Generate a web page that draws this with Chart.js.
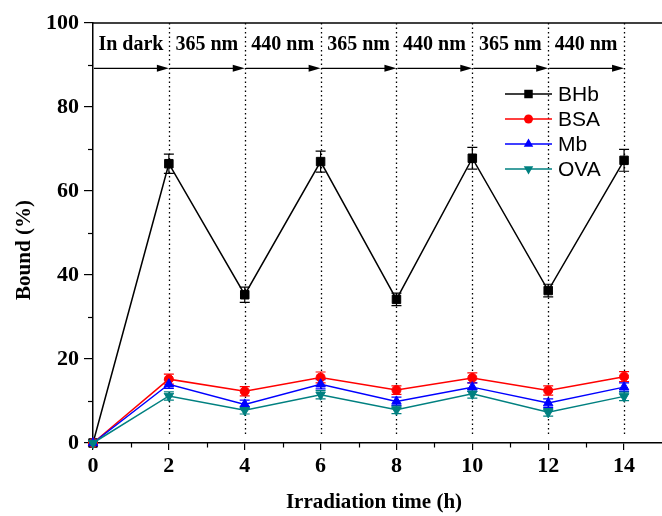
<!DOCTYPE html>
<html>
<head>
<meta charset="utf-8">
<script src="https://cdn.jsdelivr.net/npm/chart.js@4/dist/chart.umd.min.js"></script>
<style>
html,body{margin:0;padding:0;background:#fff;}
#wrap{width:662px;height:516px;}
</style>
</head>
<body>
<div id="wrap"><canvas id="c" width="662" height="516"></canvas></div>
<script>
// ---- data ----
const hours = [0, 2, 4, 6, 8, 10, 12, 14];
const bhb    = [0, 66.5, 35.3, 67.0, 34.2, 67.8, 36.3, 67.3];
const bhbErr = [0, 2.3, 1.8, 2.5, 1.5, 2.6, 1.5, 2.6];
const bsa    = [0, 15.2, 12.3, 15.6, 12.6, 15.5, 12.5, 15.8];
const bsaErr = [0, 1.2, 1.1, 1.3, 1.0, 1.2, 1.1, 1.2];
const mb     = [0, 14.0, 9.2, 14.0, 9.9, 13.3, 9.5, 13.3];
const mbErr  = [0, 1.0, 1.0, 1.1, 1.0, 1.0, 1.0, 1.0];
const ova    = [0, 11.2, 7.8, 11.5, 7.9, 11.7, 7.3, 11.1];
const ovaErr = [0, 1.0, 0.9, 1.0, 0.9, 1.0, 0.9, 1.0];
const seriesNames = ['BHb', 'BSA', 'Mb', 'OVA'];
const xTicks = [0, 2, 4, 6, 8, 10, 12, 14];
const xMinorTicks = [1, 3, 5, 7, 9, 11, 13];
const yTicks = [0, 20, 40, 60, 80, 100];
const yMinorTicks = [10, 30, 50, 70, 90];
const stageLabels = ['In dark', '365 nm', '440 nm', '365 nm', '440 nm', '365 nm', '440 nm'];
const stageStarts = [0, 2, 4, 6, 8, 10, 12];
const stageEnds   = [2, 4, 6, 8, 10, 12, 14];
const stageArrowY = 89.2;
const stageTextY = 94.8;
const dividerX = [2, 4, 6, 8, 10, 12, 14];

const SERIF = "'Liberation Serif', 'Times New Roman', serif";
const SANS = "'Liberation Sans', Arial, sans-serif";

function pts(vals) { return hours.map((h, i) => ({x: h, y: vals[i]})); }

const styles = [
  {color: '#000000', shape: 'rect', radius: 6, rot: 0},
  {color: '#ff0000', shape: 'circle', radius: 4.5, rot: 0},
  {color: '#0000ff', shape: 'triangle', radius: 5.5, rot: 0},
  {color: '#008080', shape: 'triangle', radius: 5.5, rot: 180}
];
const allVals = [bhb, bsa, mb, ova];
const allErr = [bhbErr, bsaErr, mbErr, ovaErr];

const datasets = allVals.map((v, i) => ({
  label: seriesNames[i],
  data: pts(v),
  errors: allErr[i],
  borderColor: styles[i].color,
  backgroundColor: styles[i].color,
  borderWidth: 1.5,
  pointStyle: styles[i].shape,
  pointRadius: styles[i].radius,
  pointRotation: styles[i].rot,
  pointBorderWidth: 1,
  pointBackgroundColor: styles[i].color,
  pointBorderColor: styles[i].color,
  tension: 0,
  clip: false,
  order: 4 - i
}));

function drawMarker(ctx, shape, x, y, r, rot, color) {
  ctx.save();
  ctx.fillStyle = color;
  ctx.strokeStyle = color;
  ctx.beginPath();
  if (shape === 'rect') {
    const s = r * Math.SQRT1_2;
    ctx.rect(x - s, y - s, 2 * s, 2 * s);
  } else if (shape === 'circle') {
    ctx.arc(x, y, r, 0, Math.PI * 2);
  } else {
    let a = rot * Math.PI / 180;
    ctx.moveTo(x + Math.sin(a) * r, y - Math.cos(a) * r);
    a += 2 * Math.PI / 3;
    ctx.lineTo(x + Math.sin(a) * r, y - Math.cos(a) * r);
    a += 2 * Math.PI / 3;
    ctx.lineTo(x + Math.sin(a) * r, y - Math.cos(a) * r);
    ctx.closePath();
  }
  ctx.fill();
  ctx.restore();
}

const decor = {
  id: 'decor',
  beforeDatasetsDraw(chart) {
    const {ctx, chartArea, scales: {x, y}} = chart;
    ctx.save();
    // top border
    ctx.strokeStyle = '#000';
    ctx.lineWidth = 1.5;
    ctx.beginPath();
    ctx.moveTo(chartArea.left, chartArea.top);
    ctx.lineTo(chartArea.right, chartArea.top);
    ctx.stroke();
    // dotted dividers
    ctx.setLineDash([1.5, 3]);
    ctx.lineWidth = 1.3;
    dividerX.forEach(v => {
      const px = Math.round(x.getPixelForValue(v)) + 0.5;
      ctx.beginPath();
      ctx.moveTo(px, y.getPixelForValue(100));
      ctx.lineTo(px, y.getPixelForValue(1.5));
      ctx.stroke();
    });
    ctx.setLineDash([]);
    // arrows
    const ay = y.getPixelForValue(stageArrowY);
    ctx.lineWidth = 1.2;
    stageStarts.forEach((s, i) => {
      const x0 = x.getPixelForValue(s) + 1;
      const x1 = x.getPixelForValue(stageEnds[i]);
      ctx.beginPath();
      ctx.moveTo(x0, ay);
      ctx.lineTo(x1 - 8, ay);
      ctx.stroke();
      ctx.beginPath();
      ctx.moveTo(x1, ay);
      ctx.lineTo(x1 - 12, ay - 3.5);
      ctx.lineTo(x1 - 12, ay + 3.5);
      ctx.closePath();
      ctx.fillStyle = '#000';
      ctx.fill();
    });
    // stage labels
    ctx.font = 'bold 20px ' + SERIF;
    ctx.fillStyle = '#000';
    ctx.textAlign = 'center';
    ctx.textBaseline = 'middle';
    stageStarts.forEach((s, i) => {
      const cx = x.getPixelForValue((s + stageEnds[i]) / 2);
      ctx.fillText(stageLabels[i], cx, y.getPixelForValue(stageTextY));
    });
    // error bars
    chart.data.datasets.forEach((ds) => {
      ctx.strokeStyle = ds.borderColor;
      ctx.lineWidth = 1.2;
      ds.data.forEach((p, j) => {
        const e = ds.errors[j];
        if (!e) return;
        const px = x.getPixelForValue(p.x);
        const yt = y.getPixelForValue(p.y + e);
        const yb = y.getPixelForValue(p.y - e);
        ctx.beginPath();
        ctx.moveTo(px, yt); ctx.lineTo(px, yb);
        ctx.moveTo(px - 5, yt); ctx.lineTo(px + 5, yt);
        ctx.moveTo(px - 5, yb); ctx.lineTo(px + 5, yb);
        ctx.stroke();
      });
    });
    ctx.restore();
  },
  afterDraw(chart) {
    const {ctx, chartArea, scales: {x, y}} = chart;
    ctx.save();
    ctx.strokeStyle = '#000';
    ctx.lineWidth = 1.2;
    // minor ticks
    xMinorTicks.forEach(v => {
      const px = Math.round(x.getPixelForValue(v)) + 0.5;
      ctx.beginPath();
      ctx.moveTo(px, chartArea.bottom);
      ctx.lineTo(px, chartArea.bottom + 4.5);
      ctx.stroke();
    });
    yMinorTicks.forEach(v => {
      const py = Math.round(y.getPixelForValue(v)) + 0.5;
      ctx.beginPath();
      ctx.moveTo(chartArea.left, py);
      ctx.lineTo(chartArea.left - 5, py);
      ctx.stroke();
    });
    // axis titles
    ctx.fillStyle = '#000';
    ctx.font = 'bold 21px ' + SERIF;
    ctx.textAlign = 'center';
    ctx.textBaseline = 'middle';
    ctx.fillText('Irradiation time (h)', 374, 503);
    ctx.save();
    ctx.translate(25, 250);
    ctx.rotate(-Math.PI / 2);
    ctx.fillText('Bound (%)', 0, 0);
    ctx.restore();
    // legend
    ctx.font = '21px ' + SANS;
    ctx.textAlign = 'left';
    chart.data.datasets.forEach((ds, i) => {
      const ly = 94 + i * 25;
      ctx.strokeStyle = ds.borderColor;
      ctx.lineWidth = 1.5;
      ctx.beginPath();
      ctx.moveTo(505, ly);
      ctx.lineTo(552, ly);
      ctx.stroke();
      drawMarker(ctx, styles[i].shape, 528.5, ly, styles[i].radius, styles[i].rot, ds.borderColor);
      ctx.fillStyle = '#000';
      ctx.fillText(ds.label, 558, ly + 1);
    });
    ctx.restore();
  }
};

new Chart(document.getElementById('c'), {
  type: 'line',
  data: {datasets},
  options: {
    responsive: false,
    animation: false,
    events: [],
    layout: {autoPadding: false, padding: {top: 23, right: 0, bottom: 0, left: 0}},
    plugins: {legend: {display: false}, tooltip: {enabled: false}},
    scales: {
      x: {
        type: 'linear',
        min: 0, max: 15,
        afterBuildTicks: s => { s.ticks = xTicks.map(v => ({value: v})); },
        afterFit: s => { s.height = 73; s.paddingRight = 0; s.paddingLeft = 0; },
        grid: {drawOnChartArea: false, drawTicks: true, tickLength: 7, color: '#000', lineWidth: 1.2},
        border: {display: true, color: '#000', width: 1.5},
        ticks: {color: '#000', padding: 3, maxRotation: 0, autoSkip: false,
                font: {family: SERIF, size: 22, weight: 'bold'}}
      },
      y: {
        type: 'linear',
        min: 0, max: 100,
        afterBuildTicks: s => { s.ticks = yTicks.map(v => ({value: v})); },
        afterFit: s => { s.width = 93; },
        grid: {drawOnChartArea: false, drawTicks: true, tickLength: 9, color: '#000', lineWidth: 1.2},
        border: {display: true, color: '#000', width: 1.5},
        ticks: {color: '#000', padding: 5, autoSkip: false,
                font: {family: SERIF, size: 22, weight: 'bold'}}
      }
    }
  },
  plugins: [decor]
});
</script>
</body>
</html>
